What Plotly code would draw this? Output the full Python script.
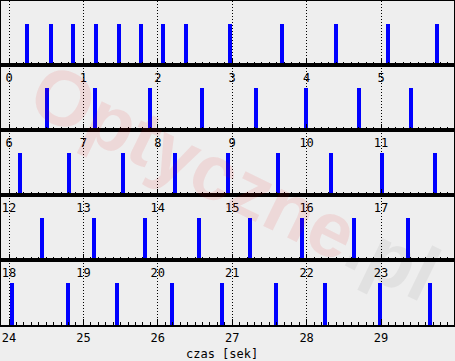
import plotly.graph_objects as go
from plotly.subplots import make_subplots

# event times in seconds
beat_times = [
    0.24, 0.565, 0.86, 1.17, 1.48, 1.775, 2.07, 2.38, 2.97, 3.67, 4.395, 5.095, 5.755,
    6.51, 7.155, 7.895, 8.595, 9.32, 9.99, 10.70, 11.40,
    12.145, 12.805, 13.53, 14.225, 14.945, 15.61, 16.33, 17.01, 17.73,
    18.445, 19.14, 19.83, 20.555, 21.24, 21.94, 22.64, 23.36,
    24.04, 24.79, 25.45, 26.19, 26.86, 27.59, 28.25, 28.99, 29.66,
]
bar_level = 0.645
row_span = 6
n_rows = 5
x_label = "czas [sek]"
watermark_main = "Optyczne"
watermark_tail = ".pl"

W, H = 455, 361
ml, mr, mt, mb = 1, 1, 1, 36
px_per_sec = 74.4
zero_px = 9
x_lo = (ml - zero_px) / px_per_sec
x_hi = (W - mr - zero_px) / px_per_sec
plot_w = W - ml - mr
plot_h = H - mt - mb
row_edges_px = [1, 65, 130, 195, 260, 325]  # layout: pixel rows of the strips


def to_paper_y(py):
    return (mt + plot_h - py) / plot_h


fig = make_subplots(rows=n_rows, cols=1, vertical_spacing=0)
mono = "DejaVu Sans Mono"

for r in range(n_rows):
    start = r * row_span
    ts = [t for t in beat_times if start <= t < start + row_span]
    fig.add_trace(go.Bar(x=ts, y=[bar_level] * len(ts), width=4 / px_per_sec,
                         marker=dict(color="#0000ff", line=dict(width=0)),
                         showlegend=False, hoverinfo="x"), row=r + 1, col=1)
    ticks = list(range(start, start + row_span))
    fig.update_xaxes(row=r + 1, col=1, automargin=False,
                     range=[start + x_lo, start + x_hi],
                     tickmode="array", tickvals=ticks, ticktext=[str(t) for t in ticks],
                     ticks="inside", ticklen=6, tickwidth=1, tickcolor="black",
                     minor=dict(dtick=0.1, tick0=0, ticks="inside", ticklen=3,
                                tickwidth=1, tickcolor="black", showgrid=False),
                     showgrid=True, gridcolor="black", gridwidth=1, griddash="1px,2px",
                     showline=True, linecolor="black", linewidth=2, mirror=True,
                     zeroline=False, ticklabelstandoff=1,
                     tickfont=dict(family=mono, size=12, color="black"))
    fig.update_yaxes(row=r + 1, col=1, automargin=False, range=[0, 1], showticklabels=False,
                     domain=[to_paper_y(row_edges_px[r + 1]), to_paper_y(row_edges_px[r])],
                     showgrid=False, zeroline=False, ticks="",
                     showline=True, linecolor="black", linewidth=2, mirror=True)

fig.add_annotation(
    text=f"<b><span style='color:rgba(235,0,0,0.09)'>{watermark_main}</span>"
         f"<span style='color:rgba(0,0,0,0.05)'>{watermark_tail}</span></b>",
    xref="paper", yref="paper",
    x=(235 - ml) / plot_w, y=to_paper_y(182),
    xanchor="center", yanchor="middle", showarrow=False, textangle=26,
    font=dict(family="Liberation Sans", size=78))
fig.add_annotation(
    text=x_label, xref="paper", yref="paper",
    x=(222 - ml) / plot_w, y=to_paper_y(354),
    xanchor="center", yanchor="middle", showarrow=False,
    font=dict(family=mono, size=12, color="black"))

fig.update_layout(width=W, height=H, margin=dict(l=ml, r=mr, t=mt, b=mb),
                  paper_bgcolor="#eeeeee", plot_bgcolor="#eeeeee",
                  bargap=0, hovermode="closest")
fig.write_html("out.html", config={"displayModeBar": False},
               post_script="document.body.style.margin='0';document.body.style.overflow='hidden';")
